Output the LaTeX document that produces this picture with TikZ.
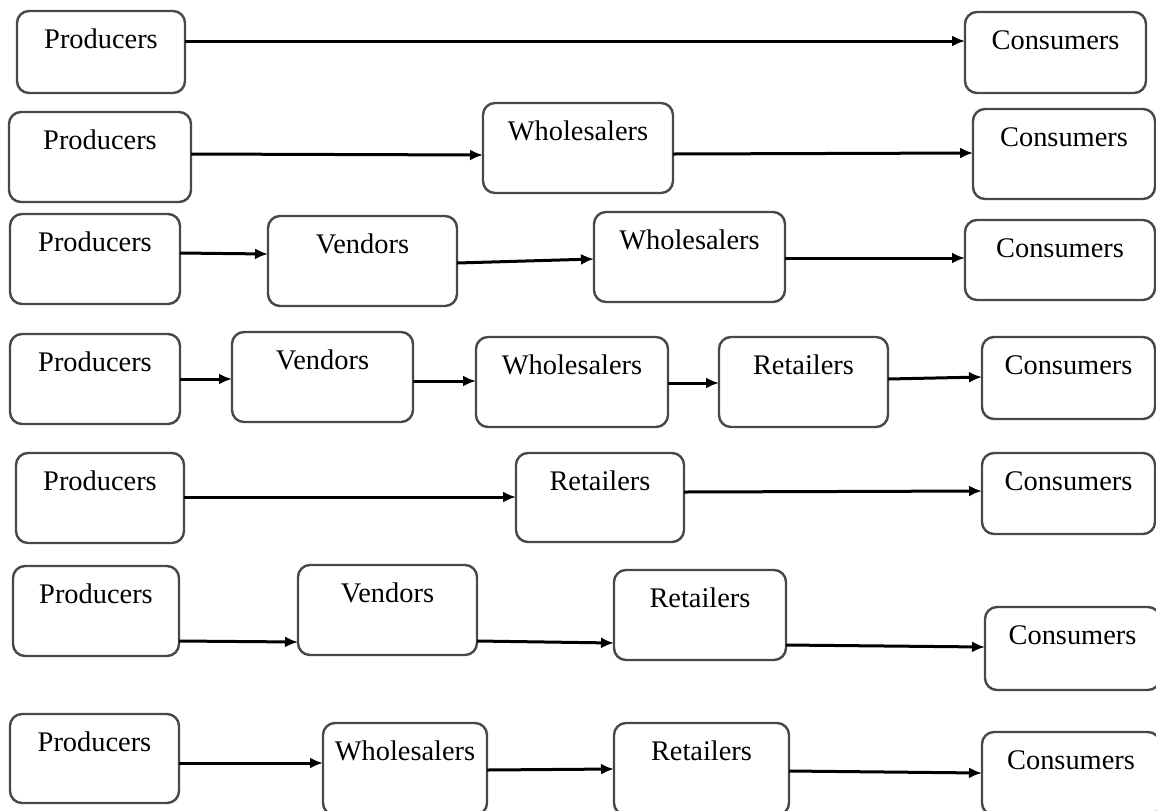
\documentclass[tikz,border=0pt]{standalone}
\usepackage{fontspec}
\setmainfont{Liberation Serif}
\usetikzlibrary{arrows.meta}
\definecolor{boxline}{HTML}{484848}
\tikzset{
  chbox/.style={draw=boxline, line width=1.2pt, rounded corners=6pt, inner sep=0pt, outer sep=0pt, fill=white},
  chtext/.style={font=\fontsize{14.2pt}{16pt}\selectfont, inner sep=0pt, anchor=center},
  arr/.style={draw=black, line width=1.5pt, -{Latex[length=6.5pt,width=5.5pt]}}
}
% name, x1, y1, x2, y2, text
\newcommand\chbx[6]{%
  \node[chbox, minimum width={(#4-#2)*0.5pt}, minimum height={(#5-#3)*0.5pt},
        label={[chtext, yshift={-28*0.5pt}]north:#6}] (#1) at ({(#2+#4)/2},{(#3+#5)/2}) {};}
\begin{document}
\begin{tikzpicture}[x=0.5pt,y=-0.5pt]
\useasboundingbox (0,0) rectangle (1156,810);
\begin{scope}
\clip (0,0) rectangle (1156,810);
% Row 1
\chbx{aP}{17}{11}{185}{93}{Producers}
\chbx{aC}{965}{12}{1146}{93}{Consumers}
\draw[arr] (aP.east |- 0,41) -- (aC.west |- 0,41);
% Row 2
\chbx{bP}{9}{112}{191}{202}{Producers}
\chbx{bW}{483}{103}{673}{193}{Wholesalers}
\chbx{bC}{973}{109}{1155}{199}{Consumers}
\draw[arr] (bP.east |- 0,154) -- (bW.west |- 0,155);
\draw[arr] (bW.east |- 0,154) -- (bC.west |- 0,153);
% Row 3
\chbx{cP}{10}{214}{180}{304}{Producers}
\chbx{cV}{268}{216}{457}{306}{Vendors}
\chbx{cW}{594}{212}{785}{302}{Wholesalers}
\chbx{cC}{965}{220}{1155}{300}{Consumers}
\draw[arr] (cP.east |- 0,253) -- (cV.west |- 0,254);
\draw[arr] (cV.east |- 0,263) -- (cW.west |- 0,259);
\draw[arr] (cW.east |- 0,258) -- (cC.west |- 0,258);
% Row 4
\chbx{dP}{10}{334}{180}{424}{Producers}
\chbx{dV}{232}{332}{413}{422}{Vendors}
\chbx{dW}{476}{337}{668}{427}{Wholesalers}
\chbx{dR}{719}{337}{888}{427}{Retailers}
\chbx{dC}{982}{337}{1155}{419}{Consumers}
\draw[arr] (dP.east |- 0,379) -- (dV.west |- 0,379);
\draw[arr] (dV.east |- 0,381) -- (dW.west |- 0,381);
\draw[arr] (dW.east |- 0,383) -- (dR.west |- 0,383);
\draw[arr] (dR.east |- 0,379) -- (dC.west |- 0,377);
% Row 5
\chbx{eP}{16}{453}{184}{543}{Producers}
\chbx{eR}{516}{453}{684}{542}{Retailers}
\chbx{eC}{982}{453}{1155}{534}{Consumers}
\draw[arr] (eP.east |- 0,497) -- (eR.west |- 0,497);
\draw[arr] (eR.east |- 0,492) -- (eC.west |- 0,491);
% Row 6
\chbx{fP}{13}{566}{179}{656}{Producers}
\chbx{fV}{298}{565}{477}{655}{Vendors}
\chbx{fR}{614}{570}{786}{660}{Retailers}
\chbx{fC}{985}{607}{1160}{690}{Consumers}
\draw[arr] (fP.east |- 0,641) -- (fV.west |- 0,642);
\draw[arr] (fV.east |- 0,641) -- (fR.west |- 0,643);
\draw[arr] (fR.east |- 0,645) -- (fC.west |- 0,647);
% Row 7
\chbx{gP}{10}{714}{179}{803}{Producers}
\chbx{gW}{323}{723}{487}{815}{Wholesalers}
\chbx{gR}{614}{723}{789}{815}{Retailers}
\chbx{gC}{982}{732}{1160}{815}{Consumers}
\draw[arr] (gP.east |- 0,763) -- (gW.west |- 0,763);
\draw[arr] (gW.east |- 0,770) -- (gR.west |- 0,769);
\draw[arr] (gR.east |- 0,771) -- (gC.west |- 0,773);
\end{scope}
\end{tikzpicture}
\end{document}
